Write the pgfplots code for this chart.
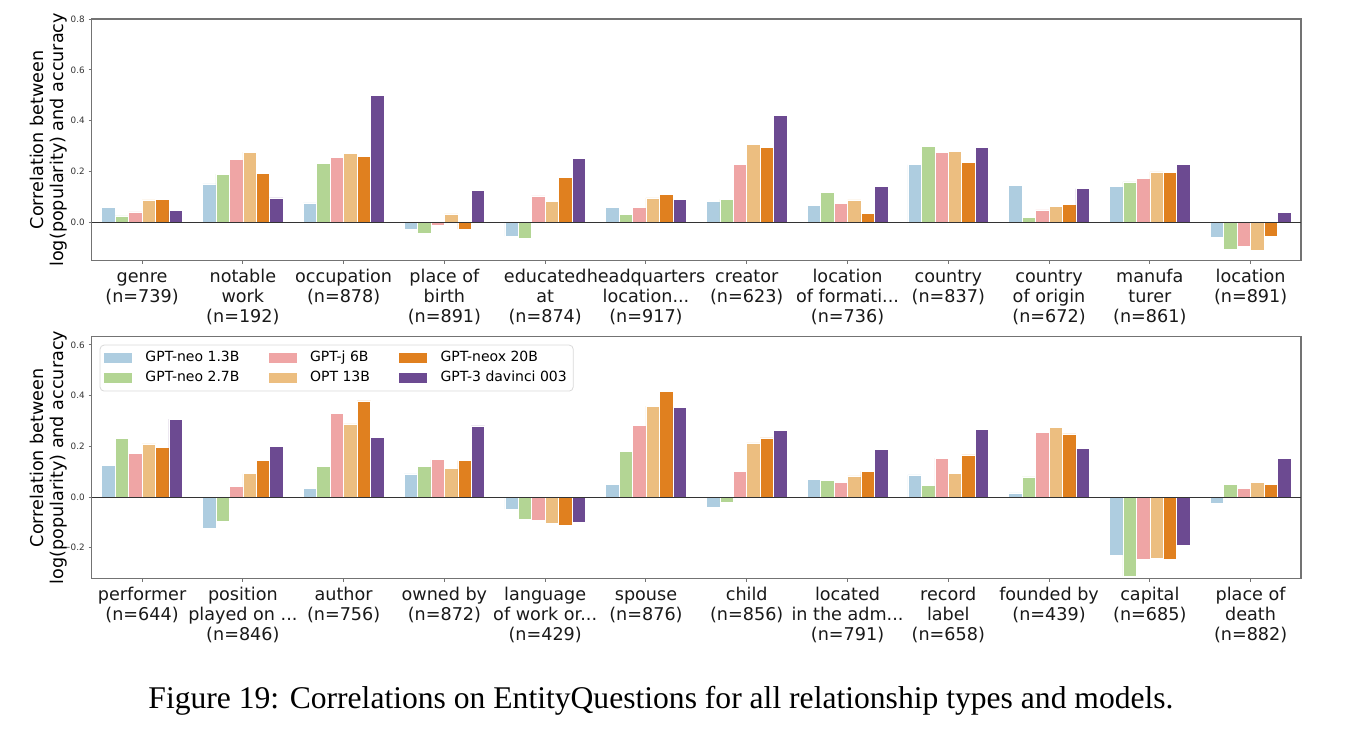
\documentclass[border=0pt]{standalone}
\usepackage{fontspec}
\setmainfont{DejaVu Sans}
\newfontfamily\capfont{Liberation Serif}
\usepackage{pgfplots}
\usepackage{pgfplotstable}
\pgfplotsset{compat=1.18}

\definecolor{c1}{HTML}{AECDE0}
\definecolor{c2}{HTML}{B3D594}
\definecolor{c3}{HTML}{EFA5A5}
\definecolor{c4}{HTML}{ECBE80}
\definecolor{c5}{HTML}{E0801F}
\definecolor{c6}{HTML}{6C4A91}

\pgfplotstableread{
x a b c d e f
0 0.058 0.026 0.042 0.089 0.090 0.047
1 0.152 0.190 0.247 0.277 0.193 0.097
2 0.077 0.231 0.257 0.273 0.261 0.501
3 -0.028 -0.042 -0.009 0.034 -0.026 0.126
4 -0.054 -0.063 0.105 0.084 0.176 0.253
5 0.060 0.031 0.060 0.097 0.112 0.091
6 0.083 0.091 0.230 0.306 0.294 0.421
7 0.066 0.119 0.076 0.089 0.035 0.143
8 0.228 0.299 0.276 0.280 0.235 0.295
9 0.147 0.021 0.050 0.062 0.070 0.133
10 0.142 0.160 0.172 0.199 0.197 0.228
11 -0.060 -0.105 -0.094 -0.110 -0.055 0.039
}\toptable

\pgfplotstableread{
x a b c d e f
0 0.126 0.232 0.172 0.209 0.197 0.307
1 -0.124 -0.097 0.043 0.092 0.145 0.200
2 0.034 0.122 0.330 0.288 0.379 0.236
3 0.091 0.120 0.147 0.112 0.143 0.280
4 -0.049 -0.086 -0.091 -0.105 -0.111 -0.099
5 0.050 0.180 0.283 0.358 0.417 0.354
6 -0.041 -0.020 0.100 0.213 0.233 0.262
7 0.071 0.067 0.059 0.083 0.101 0.187
8 0.087 0.046 0.153 0.093 0.166 0.268
9 0.016 0.079 0.254 0.275 0.249 0.192
10 -0.229 -0.312 -0.245 -0.242 -0.246 -0.189
11 -0.026 0.050 0.033 0.058 0.049 0.153
}\bottable

\newcommand{\mn}{\char"2212\relax}
\newcommand{\s}{\strut}

\pgfplotsset{
  myaxis/.style={
    scale only axis,
    width=604.65pt,
    xmin=-0.5, xmax=11.5,
    xtick={0,1,2,3,4,5,6,7,8,9,10,11},
    axis line style={black!55, line width=0.6pt},
    tick align=outside,
    major tick length=1.5pt,
    tick style={black!55, line width=0.5pt},
    xtick pos=bottom, ytick pos=left,
    xticklabel style={font=\fontsize{8.8}{10}\selectfont, align=center, anchor=north,
      inner sep=0pt, yshift=-2pt, text=black!90},
    yticklabel style={font=\fontsize{4.4}{5}\selectfont, inner sep=0pt, xshift=-1.8pt, text=black!80},
    ylabel={Correlation between\\log(popularity) and accuracy},
    ylabel style={font=\fontsize{8.8}{10}\selectfont, align=center, at={(axis description cs:-0.0352,0.5)}, anchor=center, rotate=0},
  },
  barstyle/.style={ybar, bar width=0.1333, draw=white, line width=0.3pt, forget plot},
}

\newcommand{\drawbars}[1]{%
  \addplot[barstyle, bar shift=-0.3333, fill=c1] table[x=x,y=a]{#1};
  \addplot[barstyle, bar shift=-0.2, fill=c2] table[x=x,y=b]{#1};
  \addplot[barstyle, bar shift=-0.0667, fill=c3] table[x=x,y=c]{#1};
  \addplot[barstyle, bar shift=0.0667, fill=c4] table[x=x,y=d]{#1};
  \addplot[barstyle, bar shift=0.2, fill=c5] table[x=x,y=e]{#1};
  \addplot[barstyle, bar shift=0.3333, fill=c6] table[x=x,y=f]{#1};
  \addplot[black!80, line width=0.5pt, forget plot] coordinates {(-0.5,0) (11.5,0)};
}

\begin{document}
\begin{tikzpicture}
\path[use as bounding box] (0,0) rectangle (675.5pt,366pt);

\begin{axis}[myaxis,
  at={(45.85pt,235.65pt)}, anchor=south west,
  height=120.85pt,
  ymin=-0.15, ymax=0.8,
  ytick={0,0.2,0.4,0.6,0.8},
  yticklabels={0.0,0.2,0.4,0.6,0.8},
  xticklabels={{\s genre\\(n=739)},{\s notable\\work\\(n=192)},{\s occupation\\(n=878)},{\s place of\\birth\\(n=891)},{\s educated\\at\\(n=874)},{\s headquarters\\location.{}.{}.\\(n=917)},{\s creator\\(n=623)},{\s location\\of formati.{}.{}.\\(n=736)},{\s country\\(n=837)},{\s country\\of origin\\(n=672)},{\s manufa\\turer\\(n=861)},{\s location\\(n=891)}},
]
\drawbars{\toptable}
\end{axis}

\begin{axis}[myaxis,
  at={(45.85pt,76.65pt)}, anchor=south west,
  height=121pt,
  ymin=-0.322, ymax=0.632,
  ytick={-0.2,0,0.2,0.4,0.6},
  yticklabels={{\mn 0.2},0.0,0.2,0.4,0.6},
  xticklabels={{\s performer\\(n=644)},{\s position\\played on .{}.{}.\\(n=846)},{\s author\\(n=756)},{\s owned by\\(n=872)},{\s language\\of work or.{}.{}.\\(n=429)},{\s spouse\\(n=876)},{\s child\\(n=856)},{\s located\\in the adm.{}.{}.\\(n=791)},{\s record\\label\\(n=658)},{\s founded by\\(n=439)},{\s capital\\(n=685)},{\s place of\\death\\(n=882)}},
  legend columns=3,
  legend cell align=left,
  legend image code/.code={\fill[#1, draw=none, sharp corners] (0pt,-2.35pt) rectangle (14pt,2.35pt);},
  legend style={at={(0.0066,0.967)}, anchor=north west, draw=black!15, rounded corners=2pt,
    fill=white, font=\fontsize{7}{8}\selectfont, inner xsep=2pt, inner ysep=2pt, row sep=0.8pt,
    nodes={inner sep=1.2pt, text height=5.2pt, text depth=1.5pt},
    /tikz/every odd column/.append style={column sep=5.5pt},
    /tikz/every even column/.append style={column sep=13.4pt}},
]
\addlegendimage{fill=c1}
\addlegendimage{fill=c3}
\addlegendimage{fill=c5}
\addlegendimage{fill=c2}
\addlegendimage{fill=c4}
\addlegendimage{fill=c6}
\legend{GPT-neo 1.3B, GPT-j 6B, GPT-neox 20B, GPT-neo 2.7B, OPT 13B, GPT-3 davinci 003}
\drawbars{\bottable}
\end{axis}

\node[font=\capfont\fontsize{15.8}{18}\selectfont] at (330.5pt,15.8pt) {Figure 19: Correlations on EntityQuestions for all relationship types and models.};
\end{tikzpicture}
\end{document}
